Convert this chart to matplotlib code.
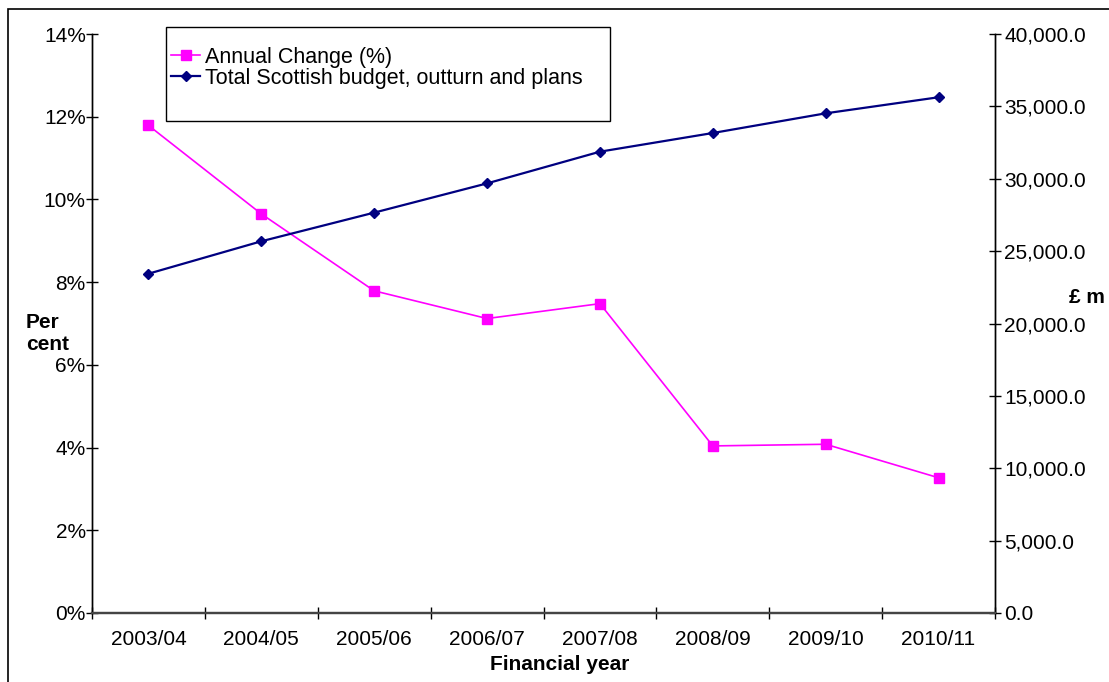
import matplotlib.pyplot as plt
import matplotlib.ticker as mticker
from matplotlib.patches import Rectangle
import numpy as np

plt.rcParams['font.family'] = ['Liberation Sans', 'DejaVu Sans']

years = ['2003/04', '2004/05', '2005/06', '2006/07', '2007/08', '2008/09', '2009/10', '2010/11']
# annual change in the total budget, per cent
annual_change = [11.79, 9.65, 7.79, 7.12, 7.48, 4.04, 4.08, 3.27]
# total Scottish budget, outturn and plans, £m
total_budget = [23440, 25680, 27660, 29680, 31870, 33160, 34520, 35630]

W, H = 1109, 682
fig = plt.figure(figsize=(W / 100, H / 100), dpi=100)
ax = fig.add_axes([92 / W, 1 - 613 / H, (995 - 92) / W, (613 - 34) / H])
ax2 = ax.twinx()

x = np.arange(len(years))
l1, = ax.plot(x, annual_change, color='#FF00FF', lw=1.2, marker='s', ms=6.5,
              mec='#FF00FF', mfc='#FF00FF', zorder=3)
l2, = ax2.plot(x, total_budget, color='#000080', lw=1.6, marker='D', ms=5.5,
               mec='#000080', mfc='#000080', zorder=3)

ax.set_xlim(-0.5, len(years) - 0.5)
ax.set_ylim(0, 14)
ax2.set_ylim(0, 40000)

ax.yaxis.set_major_locator(mticker.MultipleLocator(2))
ax.yaxis.set_major_formatter(mticker.FuncFormatter(lambda v, p: '%d%%' % v))
ax2.yaxis.set_major_locator(mticker.MultipleLocator(5000))
ax2.yaxis.set_major_formatter(mticker.FuncFormatter(lambda v, p: '{:,.1f}'.format(v)))

fs = 15
ax.set_xticks(x)
ax.set_xticklabels(years)
ax.set_xticks(np.arange(-0.5, len(years)), minor=True)
ax.tick_params(axis='x', which='major', length=0, pad=12.5, labelsize=fs)
ax.tick_params(axis='x', which='minor', direction='inout', length=9, width=1)
ax.tick_params(axis='y', direction='inout', length=9, width=1, pad=0, labelsize=fs)
ax2.tick_params(axis='y', direction='inout', length=9, width=1, pad=2, labelsize=fs)

for a in (ax, ax2):
    a.spines['top'].set_visible(False)
    a.spines['left'].set_linewidth(1)
    a.spines['right'].set_linewidth(1)
    a.spines['bottom'].set_linewidth(1.6)
    a.spines['bottom'].set_color('#444444')
    a.patch.set_visible(False)

# axis titles
fig.text(26 / W, 1 - 333 / H, 'Per\ncent', ha='left', va='center',
         fontsize=fs, fontweight='bold', linespacing=1.2)
fig.text(1087 / W, 1 - 297 / H, '£ m', ha='center', va='center',
         fontsize=fs, fontweight='bold')
fig.text(560 / W, 1 - 664 / H, 'Financial year', ha='center', va='center',
         fontsize=fs, fontweight='bold')

# legend box
fig.patches.append(Rectangle((166 / W, 1 - 121 / H), 444 / W, 94 / H,
                             transform=fig.transFigure, fill=False,
                             edgecolor='black', lw=1))
fig.legend([l1, l2], ['Annual Change (%)', 'Total Scottish budget, outturn and plans'],
           loc='upper left', bbox_to_anchor=(171 / W, 1 - 47 / H),
           frameon=False, fontsize=15.5, handlelength=1.35, handletextpad=0.25,
           labelspacing=0.0, borderpad=0, borderaxespad=0)

# outer frame
fig.patches.append(Rectangle((8 / W, -0.05), 1.2, 1 - 9 / H + 0.05,
                             transform=fig.transFigure, fill=False,
                             edgecolor='black', lw=1.2))

fig.savefig('out.png', dpi=100)
